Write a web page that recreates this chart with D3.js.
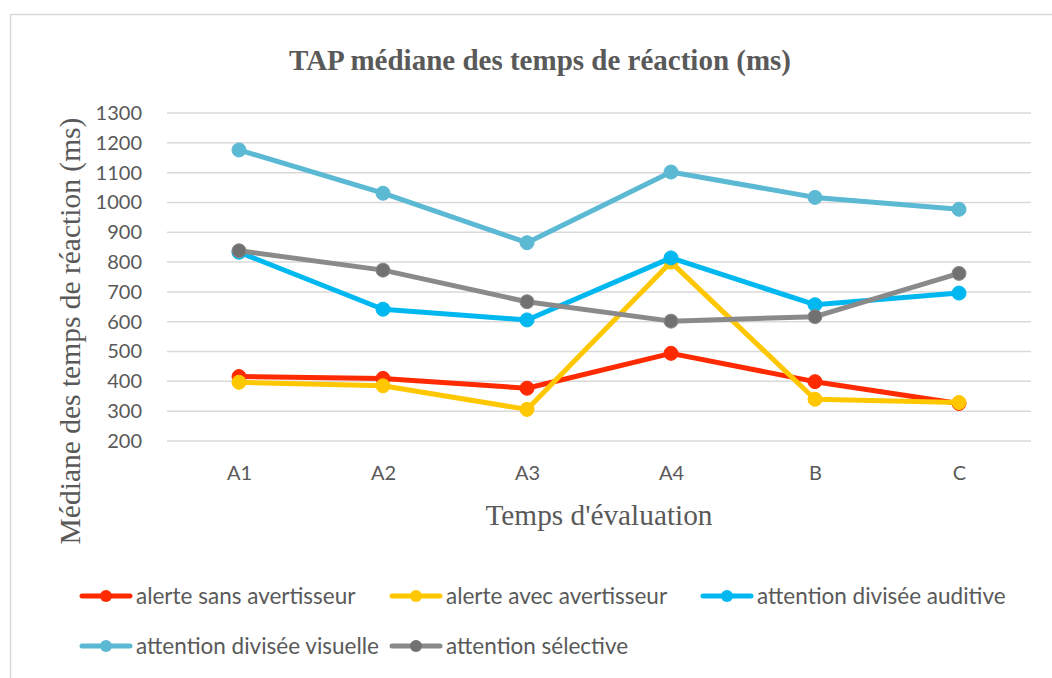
<!DOCTYPE html>
<html>
<head>
<meta charset="utf-8">
<script src="https://cdn.jsdelivr.net/npm/d3@7"></script>
<style>
body { margin: 0; background: #fff; }
</style>
</head>
<body>
<div id="chart"></div>
<script>
// Données
var categories = ["A1", "A2", "A3", "A4", "B", "C"];
var alerteSans = [416, 410, 377, 494, 399, 326];
var alerteAvec = [397, 385, 306, 800, 340, 329];
var attAuditive = [833, 642, 606, 814, 657, 696];
var attVisuelle = [1176, 1031, 865, 1102, 1017, 977];
var attSelective = [838, 773, 667, 602, 617, 762];
var yTicks = [200, 300, 400, 500, 600, 700, 800, 900, 1000, 1100, 1200, 1300];

var series = [
  { name: "alerte sans avertisseur", values: alerteSans, color: "#ff2a00", mark: "#ff2a00" },
  { name: "alerte avec avertisseur", values: alerteAvec, color: "#ffc700", mark: "#ffc700" },
  { name: "attention divisée auditive", values: attAuditive, color: "#00b8f0", mark: "#00b8f0" },
  { name: "attention divisée visuelle", values: attVisuelle, color: "#5cb9d3", mark: "#5cb9d3" },
  { name: "attention sélective", values: attSelective, color: "#8a8a8a", mark: "#717171" }
];

var width = 1052, height = 678;
var plotLeft = 167, plotRight = 1031, plotTop = 113, plotBottom = 441;

var svg = d3.select("#chart").append("svg")
  .attr("width", width)
  .attr("height", height);

// cadre
svg.append("path")
  .attr("d", "M10.5," + height + " V14.5 H" + width)
  .attr("fill", "none")
  .attr("stroke", "#d9d9d9")
  .attr("stroke-width", 1.5);

var x = d3.scalePoint().domain(categories).range([plotLeft, plotRight]).padding(0.5);
var y = d3.scaleLinear().domain([200, 1300]).range([plotBottom, plotTop]);

// grille
svg.append("g")
  .selectAll("line")
  .data(yTicks)
  .enter()
  .append("line")
  .attr("x1", plotLeft)
  .attr("x2", plotRight)
  .attr("y1", d => y(d))
  .attr("y2", d => y(d))
  .attr("stroke", "#d9d9d9")
  .attr("stroke-width", 1.5);

// axe y
var yAxis = svg.append("g")
  .attr("transform", "translate(" + (plotLeft - 6) + ",0)")
  .call(d3.axisLeft(y).tickValues(yTicks).tickFormat(d3.format("d")).tickSize(0).tickPadding(19));
yAxis.select(".domain").remove();
yAxis.selectAll("text")
  .attr("font-family", "Lato, sans-serif")
  .attr("font-size", 20)
  .attr("fill", "#595959");

// axe x
var xAxis = svg.append("g")
  .attr("transform", "translate(0," + plotBottom + ")")
  .call(d3.axisBottom(x).tickSize(0).tickPadding(25));
xAxis.select(".domain").remove();
xAxis.selectAll("text")
  .attr("font-family", "Lato, sans-serif")
  .attr("font-size", 20)
  .attr("fill", "#595959");

// titres
svg.append("text")
  .attr("x", 540)
  .attr("y", 70)
  .attr("text-anchor", "middle")
  .attr("font-family", "'Liberation Serif', serif")
  .attr("font-weight", "bold")
  .attr("font-size", 29)
  .attr("fill", "#595959")
  .text("TAP médiane des temps de réaction (ms)");

svg.append("text")
  .attr("x", 599)
  .attr("y", 525)
  .attr("text-anchor", "middle")
  .attr("font-family", "'Liberation Serif', serif")
  .attr("font-size", 29.3)
  .attr("fill", "#595959")
  .text("Temps d'évaluation");

svg.append("text")
  .attr("transform", "translate(80,331) rotate(-90)")
  .attr("text-anchor", "middle")
  .attr("font-family", "'Liberation Serif', serif")
  .attr("font-size", 29.5)
  .attr("fill", "#595959")
  .text("Médiane des temps de réaction (ms)");

// séries
var line = d3.line()
  .x((d, i) => x(categories[i]))
  .y(d => y(d));

var groups = svg.selectAll(".serie")
  .data(series)
  .enter()
  .append("g")
  .attr("class", "serie");

groups.append("path")
  .attr("d", d => line(d.values))
  .attr("fill", "none")
  .attr("stroke", d => d.color)
  .attr("stroke-width", 5)
  .attr("stroke-linejoin", "round");

groups.selectAll("circle")
  .data(d => d.values.map((v, i) => ({ v: v, i: i, s: d })))
  .enter()
  .append("circle")
  .attr("cx", d => x(categories[d.i]))
  .attr("cy", d => y(d.v))
  .attr("r", 7)
  .attr("fill", d => d.s.mark)
  .attr("stroke", d => d.s.color)
  .attr("stroke-width", 1);

// légende
var legendPos = [
  { x: 80, y: 596 },
  { x: 390, y: 596 },
  { x: 701, y: 596 },
  { x: 80, y: 646 },
  { x: 390, y: 646 }
];

var legend = svg.selectAll(".legende")
  .data(series)
  .enter()
  .append("g")
  .attr("class", "legende")
  .attr("transform", (d, i) => "translate(" + legendPos[i].x + "," + legendPos[i].y + ")");

legend.append("line")
  .attr("x1", 2)
  .attr("x2", 50)
  .attr("stroke", d => d.color)
  .attr("stroke-width", 5)
  .attr("stroke-linecap", "round");

legend.append("circle")
  .attr("cx", 26)
  .attr("r", 6)
  .attr("fill", d => d.mark);

legend.append("text")
  .attr("x", 56)
  .attr("dy", "0.35em")
  .attr("font-family", "Lato, sans-serif")
  .attr("font-size", 22.5)
  .attr("fill", "#595959")
  .text(d => d.name);
</script>
</body>
</html>
